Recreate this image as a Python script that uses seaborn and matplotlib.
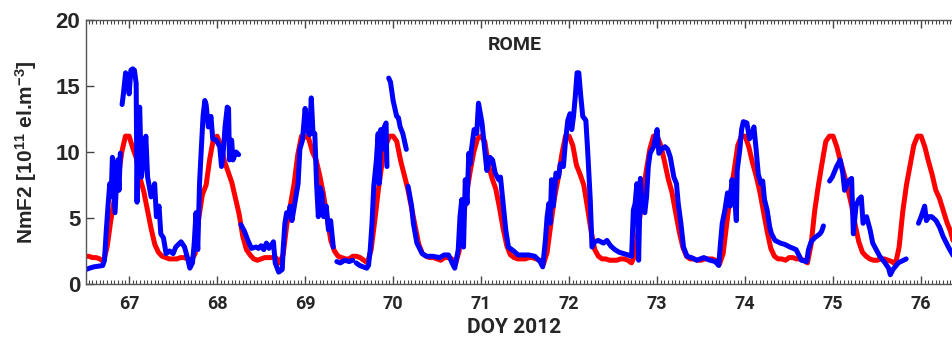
import numpy as np
import pandas as pd
import matplotlib
matplotlib.use("Agg")
import matplotlib.pyplot as plt
import seaborn as sns
from matplotlib.ticker import MultipleLocator

# ---------------- data ----------------
# Red (model) curve: hourly values, one list per day, starting at DOY-0.5
red_start = 66.5
red_d67 = [2.1, 2.1, 2.0, 2.0, 1.9, 1.7, 2.8, 4.8, 6.5, 8.0, 10.0, 11.2, 11.2, 10.3, 9.5, 8.0, 7.0, 5.6, 4.2, 3.0, 2.4, 2.1, 2.0, 1.9]
red_d68 = [1.9, 1.9, 2.0, 2.0, 1.9, 1.8, 2.3, 5.0, 6.8, 7.5, 9.5, 11.0, 11.2, 10.5, 9.3, 8.5, 7.7, 6.5, 5.3, 3.6, 2.6, 2.2, 1.9, 1.8]
red_d69 = [1.9, 2.0, 2.0, 2.0, 2.0, 1.6, 2.2, 4.5, 6.0, 7.6, 9.8, 11.2, 11.2, 11.0, 10.0, 9.4, 8.2, 6.8, 5.0, 3.3, 2.5, 2.1, 2.0, 1.9]
red_d70 = [1.9, 2.1, 2.1, 2.0, 1.8, 1.6, 2.6, 4.8, 7.2, 9.2, 10.5, 11.2, 11.2, 10.8, 9.4, 8.3, 7.2, 5.8, 4.4, 3.0, 2.3, 2.1, 2.0, 2.0]
red_d71 = [1.9, 1.8, 2.0, 2.0, 1.9, 1.5, 2.5, 4.6, 6.8, 8.5, 10.0, 11.0, 11.2, 10.8, 9.0, 8.0, 7.2, 5.8, 4.2, 2.9, 2.2, 2.0, 1.9, 1.9]
red_d72 = [1.9, 2.0, 2.0, 1.9, 1.8, 1.5, 2.4, 4.5, 6.5, 8.0, 9.8, 11.2, 11.2, 10.5, 9.0, 8.3, 7.5, 5.8, 4.0, 2.6, 2.1, 1.9, 1.9, 1.8]
red_d73 = [1.8, 1.8, 1.9, 1.9, 1.8, 1.6, 2.2, 4.5, 6.5, 8.5, 10.2, 11.2, 11.2, 10.5, 9.3, 8.0, 7.0, 5.5, 4.0, 2.8, 2.1, 1.9, 1.9, 1.8]
red_d74 = [1.8, 1.9, 1.9, 1.9, 1.8, 1.5, 2.3, 4.6, 6.8, 8.6, 10.5, 11.2, 11.2, 10.4, 9.2, 8.2, 7.0, 5.5, 4.0, 2.7, 2.1, 1.9, 1.9, 1.8]
red_d75 = [2.0, 2.0, 1.9, 1.9, 1.8, 1.6, 3.0, 5.6, 7.5, 9.2, 10.8, 11.2, 11.2, 10.4, 9.3, 8.3, 7.2, 6.0, 4.5, 3.2, 2.4, 2.1, 1.9, 1.8]
red_d76 = [1.8, 1.9, 1.9, 1.8, 1.7, 1.5, 2.8, 5.5, 7.5, 9.0, 10.5, 11.2, 11.2, 10.4, 9.3, 8.3, 7.1, 6.5, 5.6, 4.7, 4.0, 3.0, 2.2, 1.9]

# Blue (observed) curve: DOY / NmF2 pairs, NaN marks a data gap
blue_doy = [
    66.51, 66.55, 66.60, 66.65, 66.70, 66.72, 66.74, 66.76, 66.78, 66.795, 66.81, 66.84, 66.87, 66.885, 66.90, np.nan,
    66.92, 66.935, 66.96, 66.985, 67.0, 67.02, 67.04, 67.06, 67.08, 67.09, 67.10, 67.12, 67.14, 67.165, 67.19, 67.21,
    67.25, 67.29, 67.31, 67.34, 67.36, 67.39, 67.42, 67.46, 67.50, 67.53, 67.56, 67.59, 67.63, 67.67, 67.69, 67.72,
    67.74, 67.76, 67.78, 67.80, 67.82, 67.84, 67.86, 67.875, 67.90, 67.93, 67.95, 67.99, 68.03, 68.05, 68.065, 68.09,
    68.115, 68.13, 68.14, 68.165, 68.18, 68.215, 68.245, np.nan,
    68.27, 68.31, 68.35, 68.39, 68.44, 68.47, 68.50, 68.53, 68.56, 68.59, 68.62, 68.64, 68.66, 68.70, 68.74, 68.75,
    68.77, 68.79, 68.81, 68.83, 68.85, 68.88, 68.92, 68.94, 68.97, 69.0, 69.02, 69.05, 69.07, 69.09, 69.11, 69.13,
    69.15, 69.17, 69.19, 69.21, 69.24, 69.265, 69.29, 69.32, np.nan,
    69.36, 69.40, 69.45, 69.50, 69.54, np.nan,
    69.58, 69.62, 69.66, 69.70, 69.72, 69.74, 69.76, 69.78, 69.795, 69.81, 69.83, 69.84, 69.86, 69.875, 69.90, 69.92,
    69.93, np.nan,
    69.95, 69.97, 70.0, 70.04, 70.06, 70.08, 70.11, 70.13, 70.15, np.nan,
    70.17, 70.21, 70.23, 70.27, 70.33, 70.38, 70.45, 70.53, 70.58, 70.63, 70.67, 70.70, 70.74, 70.76, 70.78, 70.80,
    70.82, 70.84, 70.86, 70.875, 70.89, 70.92, 70.95, 70.97, 71.01, 71.04, 71.065, 71.08, 71.10, 71.13, 71.16, 71.20,
    71.22, 71.25, 71.28, 71.31, 71.37, 71.42, 71.48, 71.54, 71.61, 71.67, 71.70, 71.73, 71.75, 71.77, 71.785, 71.80,
    71.82, 71.85, 71.88, 71.90, 71.935, 71.96, 71.985, 72.01, 72.03, 72.05, 72.07, 72.09, 72.11, 72.13, 72.155, 72.19,
    72.21, 72.24, 72.26, 72.29, 72.33, 72.39, 72.43, 72.47, 72.52, 72.57, 72.62, 72.67, 72.71, 72.73, 72.75, 72.77,
    72.79, 72.81, 72.83, 72.86, 72.88, 72.90, 72.92, 72.96, 73.0, 73.02, 73.05, 73.09, 73.12, 73.15, 73.19, 73.22,
    73.24, 73.27, 73.30, 73.34, 73.39, 73.45, 73.53, 73.60, 73.66, 73.70, 73.72, 73.74, 73.77, 73.80, 73.83, 73.85,
    73.875, 73.90, 73.91, 73.94, 73.96, 73.98, 74.02, 74.05, 74.08, 74.10, 74.125, 74.15, 74.18, 74.20, 74.22, 74.25,
    74.28, 74.30, 74.34, 74.40, 74.45, 74.51, 74.58, 74.64, 74.70, 74.72, 74.75, 74.79, 74.85, 74.87, 74.89, np.nan,
    74.96, 74.99, 75.04, 75.08, 75.11, 75.13, 75.17, 75.21, 75.23, 75.26, 75.29, 75.32, 75.34, 75.38, 75.42, 75.45,
    75.49, 75.53, 75.59, 75.63, 75.65, 75.68, 75.74, 75.80, 75.83, np.nan,
    75.97, 76.0, 76.04, 76.06, 76.09, 76.12, 76.17, 76.21, 76.25, 76.31, 76.36, 76.40,
]
blue_nmf2 = [
    1.1, 1.2, 1.3, 1.35, 1.4, 1.8, 4.0, 5.9, 7.6, 6.6, 9.6, 5.4, 9.4, 7.1, 9.9, np.nan,
    13.6, 14.4, 16.0, 15.7, 14.4, 16.2, 16.3, 16.2, 15.2, 6.2, 11.4, 13.4, 8.1, 9.6, 11.2, 8.1,
    6.6, 7.6, 5.1, 5.9, 3.8, 3.5, 2.3, 2.5, 2.3, 2.8, 3.0, 3.2, 2.8, 1.8, 1.2, 1.6,
    3.1, 5.4, 2.6, 7.6, 10.2, 12.7, 13.9, 13.6, 11.9, 12.7, 11.0, 10.9, 10.4, 8.9, 9.6, 11.9,
    13.4, 13.3, 9.4, 10.9, 9.4, 10.0, 9.8, np.nan,
    4.5, 4.0, 3.3, 2.7, 2.8, 2.7, 2.9, 2.6, 3.1, 2.7, 3.0, 3.2, 1.6, 0.9, 1.1, 2.6,
    4.6, 5.4, 5.1, 5.9, 4.8, 6.0, 7.6, 10.2, 10.9, 13.3, 11.7, 11.3, 14.1, 11.4, 11.4, 7.6,
    5.1, 7.3, 6.9, 5.1, 5.9, 4.1, 4.8, 2.8, np.nan,
    1.7, 1.6, 1.8, 1.7, 1.8, np.nan,
    1.6, 1.4, 1.3, 1.2, 1.4, 2.6, 4.6, 7.4, 8.4, 9.4, 11.4, 7.6, 11.7, 10.2, 11.9, 12.2,
    8.9, np.nan,
    15.6, 15.3, 13.9, 12.7, 12.6, 11.9, 11.4, 10.8, 10.2, np.nan,
    7.4, 5.9, 4.6, 3.1, 2.3, 2.1, 2.1, 2.0, 2.2, 2.2, 1.6, 1.2, 2.6, 5.1, 6.4, 2.8,
    7.9, 6.1, 9.9, 9.1, 10.2, 11.7, 11.4, 13.7, 12.2, 10.2, 8.6, 9.1, 9.6, 9.4, 8.4, 7.9,
    8.1, 6.1, 4.1, 2.8, 2.5, 2.2, 2.2, 2.2, 2.1, 1.7, 1.3, 3.3, 5.1, 6.1, 4.6, 7.9,
    5.9, 8.4, 8.1, 9.1, 8.9, 10.9, 12.4, 12.9, 11.7, 12.7, 14.2, 16.0, 16.0, 14.4, 12.7, 12.4,
    10.2, 6.4, 2.8, 3.2, 3.3, 3.1, 3.3, 2.9, 2.6, 2.4, 2.3, 2.2, 2.1, 5.6, 6.1, 7.6,
    1.8, 8.0, 5.9, 5.4, 6.6, 8.9, 9.9, 10.4, 11.7, 9.9, 10.2, 10.4, 10.2, 9.6, 8.1, 7.6,
    6.1, 4.6, 2.8, 2.1, 2.0, 1.8, 2.0, 1.8, 1.7, 1.4, 3.1, 4.6, 5.6, 6.9, 5.9, 7.9,
    7.1, 4.8, 8.6, 10.2, 11.7, 12.3, 12.2, 11.0, 11.4, 11.9, 10.2, 8.3, 7.6, 7.8, 6.4, 5.6,
    4.3, 3.8, 3.3, 3.1, 3.0, 2.8, 2.6, 1.8, 1.7, 2.6, 3.2, 3.5, 3.8, 4.0, 4.4, np.nan,
    7.8, 8.1, 8.9, 9.4, 8.4, 7.1, 7.8, 8.0, 3.8, 5.9, 6.4, 6.6, 4.6, 5.1, 4.1, 3.1,
    2.6, 2.1, 1.6, 1.2, 0.7, 1.1, 1.6, 1.8, 1.9, np.nan,
    4.6, 5.1, 5.9, 4.8, 5.1, 5.1, 4.8, 4.3, 3.6, 2.8, 2.2, 1.8,
]

x_ticks = [67, 68, 69, 70, 71, 72, 73, 74, 75, 76]
y_ticks = [0, 5, 10, 15, 20]
station = "ROME"
x_label = "DOY 2012"
y_label = r"NmF2 [10$^{11}$ el.m$^{-3}$]"

# ---------------- frames ----------------
red_vals = (red_d67 + red_d68 + red_d69 + red_d70 + red_d71 +
            red_d72 + red_d73 + red_d74 + red_d75 + red_d76)
red_df = pd.DataFrame({"doy": red_start + np.arange(len(red_vals)) / 24.0,
                       "nmf2": red_vals})

blue_df = pd.DataFrame({"doy": blue_doy, "nmf2": blue_nmf2})
blue_df["seg"] = blue_df["doy"].isna().cumsum()
blue_df = blue_df.dropna()

# ---------------- plot ----------------
sns.set_style("ticks")
plt.rcParams["font.family"] = ["Liberation Sans", "DejaVu Sans"]
plt.rcParams["mathtext.fontset"] = "custom"
plt.rcParams["mathtext.rm"] = "Liberation Sans:bold"
plt.rcParams["mathtext.it"] = "Liberation Sans:bold"
plt.rcParams["mathtext.bf"] = "Liberation Sans:bold"

fig = plt.figure(figsize=(9.53, 3.40), dpi=100)
# axes run slightly past the right edge of the figure (cropped like the original)
ax = fig.add_axes([86 / 953, 1 - 284 / 340, 880 / 953, 264 / 340])

sns.lineplot(data=red_df, x="doy", y="nmf2", ax=ax, color="#ff0000",
             linewidth=3.6, estimator=None, sort=False)
sns.lineplot(data=blue_df, x="doy", y="nmf2", units="seg", ax=ax,
             color="#0000ff", linewidth=3.6, estimator=None, sort=False)

ax.set_xlim(66.51, 66.51 + 880 / 88)
ax.set_ylim(0, 20)
ax.set_xticks(x_ticks)
ax.set_yticks(y_ticks)
ax.xaxis.set_minor_locator(MultipleLocator(1 / 24))
ax.tick_params(axis="both", which="both", direction="in", top=True, right=False,
               color="#444444")
ax.tick_params(axis="both", which="major", length=6, width=1)
ax.tick_params(axis="x", which="minor", length=3, width=0.8)
ax.tick_params(axis="x", which="major", labelsize=13, pad=8)
ax.tick_params(axis="y", which="major", labelsize=16, pad=4)
for lab in ax.get_xticklabels():
    lab.set_fontweight("bold")
    lab.set_family(["Roboto", "DejaVu Sans"])
for lab in ax.get_yticklabels():
    lab.set_fontweight("bold")
for sp in ax.spines.values():
    sp.set_color("#555555")
    sp.set_linewidth(1.0)

ax.set_xlabel(x_label, fontsize=15, fontweight="bold",
              family=["Roboto", "DejaVu Sans"])
# keep label centred on the visible part of the axes, as in the original
ax.xaxis.set_label_coords((514 - 86) / 880, -0.13)
ax.set_ylabel(y_label, fontsize=15, fontweight="bold", labelpad=12)
ax.text((515 - 86) / 880, 0.905, station, transform=ax.transAxes, ha="center",
        va="center", fontsize=14, fontweight="bold", family=["Roboto", "DejaVu Sans"])

fig.savefig("out.png", dpi=100)
